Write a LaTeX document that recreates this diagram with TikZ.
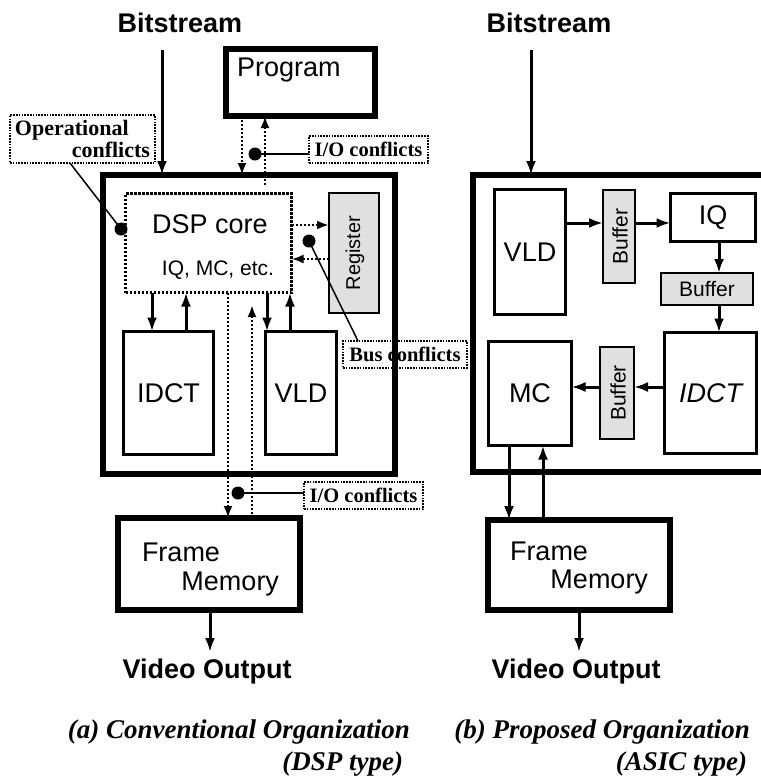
\documentclass[tikz,border=0pt]{standalone}
\usepackage{fontspec}
\setmainfont{Liberation Serif}
\setsansfont{Liberation Sans}
\usetikzlibrary{arrows.meta}
\newcommand\fsz[1]{\fontsize{#1}{#1}\selectfont}
\begin{document}
\begin{tikzpicture}[x=1pt,y=-1pt,
 every node/.style={inner sep=0pt, outer sep=0pt},
 thkbox/.style={draw, line width=6pt},
 blkbox/.style={draw, line width=3pt},
 shdbox/.style={draw, line width=2pt, fill=black!12},
 dotbox/.style={draw, line width=2.6pt, dash pattern=on 2.4pt off 1.6pt},
 ctag/.style={draw, line width=1.6pt, dash pattern=on 1.6pt off 1.2pt, font=\rmfamily\bfseries\fsz{20.5}},
 tagtxt/.style={font=\rmfamily\bfseries\fsz{22}},
 solidarr/.style={line width=3pt, -{Latex[length=14pt,width=10pt]}},
 dotarr/.style={line width=2.6pt, dash pattern=on 2.4pt off 1.6pt, -{Latex[length=12pt,width=9pt]}},
 leadline/.style={line width=1.5pt},
 bulletdot/.style={circle, fill=black, minimum size=13pt},
 sftxt/.style={font=\sffamily\fsz{27}},
 sfbold/.style={font=\sffamily\bfseries\fsz{27}},
 captxt/.style={font=\rmfamily\bfseries\itshape\fsz{27}},
]
\useasboundingbox (0,0) rectangle (761,780);
\clip (0,0) rectangle (761,780);
\fill[white] (0,0) rectangle (761,780);

% ---------------- (a) DSP type ----------------
\node[sfbold, anchor=base] (btL) at (180,32) {Bitstream};
\coordinate (btLs) at (162,50);
\node[thkbox, minimum width=149pt, minimum height=67pt] (prog) at (300.5,82.5) {};
\node[sftxt, anchor=base west] (progT) at (237,76) {Program};
\node[thkbox, minimum width=292pt, minimum height=299pt] (outL) at (249,324.5) {};
\draw[solidarr] (btLs) -- (outL.north -| btLs);

\node[dotbox, minimum width=166pt, minimum height=99pt] (dsp) at (208.5,243) {};
\node[sftxt, anchor=base] (dspT) at (210,233) {DSP core};
\node[font=\sffamily\fsz{21}, anchor=base] (dspS) at (218,275) {IQ, MC, etc.};
\node[shdbox, minimum width=50pt, minimum height=120pt] (reg) at (354,253) {};
\node[font=\sffamily\fsz{20}, rotate=90] (regT) at (355,253) {Register};
\node[blkbox, sftxt, minimum width=90pt, minimum height=123pt] (idctL) at (168.5,393) {IDCT};
\node[blkbox, sftxt, minimum width=71pt, minimum height=123pt] (vldL) at (301,393) {VLD};

\draw[solidarr] (dsp.south -| 152,0) -- (idctL.north -| 152,0);
\draw[solidarr] (idctL.north -| 186,0) -- (dsp.south -| 186,0);
\draw[solidarr] (dsp.south -| 267,0) -- (vldL.north -| 267,0);
\draw[solidarr] (vldL.north -| 290,0) -- (dsp.south -| 290,0);
\draw[dotarr] (dsp.east |- 0,225) -- (reg.west |- 0,225);
\draw[dotarr] (reg.west |- 0,259) -- (dsp.east |- 0,259);

% program I/O
\draw[dotarr] (prog.south -| 242,0) -- (outL.north -| 242,0);
\coordinate (upS) at (265,185);
\draw[dotarr] (upS) -- (prog.south -| upS);
\node[bulletdot] (dU) at (255,154) {};
\node[ctag, minimum width=119pt, minimum height=27pt] (ioU) at (368.5,149.5) {I/O conflicts};
\draw[leadline] (dU.center) -- (dU -| ioU.west);

% operational conflicts
\node[ctag, minimum width=145pt, minimum height=48pt] (opc) at (82.5,139) {};
\node[tagtxt, anchor=base west] (opc1) at (15,135) {Operational};
\node[tagtxt, anchor=base east] (opc2) at (150,157) {conflicts};
\node[bulletdot] (dO) at (121,229) {};
\draw[leadline] (opc.south -| 70,0) -- (dO.center);

% bus conflicts
\node[bulletdot] (dB) at (309,241) {};
\node[ctag, minimum width=124pt, minimum height=27pt] (bus) at (405,354.5) {Bus conflicts};
\draw[leadline] (dB.center) -- (bus.north -| 358,0);

% frame memory (a)
\node[thkbox, minimum width=182pt, minimum height=92pt] (fmL) at (209,564) {};
\node[sftxt, anchor=base west] (fmL1) at (142,561) {Frame};
\node[sftxt, anchor=base east] (fmL2) at (279,590) {Memory};
\draw[dotarr] (dsp.south -| 228,0) -- (fmL.north -| 228,0);
\coordinate (upE) at (252,305);
\draw[dotarr] (fmL.north -| upE) -- (upE);
\node[bulletdot] (dL) at (238,493) {};
\node[ctag, minimum width=119pt, minimum height=27pt] (ioL) at (363.5,495.5) {I/O conflicts};
\draw[leadline] (dL.center) -- (dL -| ioL.west);

\coordinate (voLt) at (210,652);
\draw[solidarr] (fmL.south -| voLt) -- (voLt);
\node[sfbold, anchor=base] (voL) at (207,678) {Video Output};

% ---------------- (b) ASIC type ----------------
\node[sfbold, anchor=base] (btR) at (549,32) {Bitstream};
\coordinate (btRs) at (531,50);
\node[thkbox, minimum width=324pt, minimum height=297pt] (outR) at (635,323.5) {};
\draw[solidarr] (btRs) -- (outR.north -| btRs);

\node[blkbox, sftxt, minimum width=71pt, minimum height=125pt] (vldR) at (530,252) {VLD};
\node[shdbox, minimum width=32pt, minimum height=93pt] (buf1) at (619,236.5) {};
\node[font=\sffamily\fsz{21}, rotate=90] (buf1T) at (620,236.5) {Buffer};
\node[blkbox, sftxt, minimum width=85pt, minimum height=48pt] (iq) at (713,217.5) {IQ};
\node[shdbox, font=\sffamily\fsz{21}, minimum width=92pt, minimum height=32pt] (buf2) at (707,289) {Buffer};
\node[blkbox, font=\sffamily\itshape\fsz{27}, minimum width=92pt, minimum height=121pt] (idctR) at (710.5,393) {IDCT};
\node[shdbox, minimum width=34pt, minimum height=92pt] (buf3) at (617,393) {};
\node[font=\sffamily\fsz{21}, rotate=90] (buf3T) at (618,393) {Buffer};
\node[blkbox, sftxt, minimum width=83pt, minimum height=104pt] (mc) at (530,393.5) {MC};

\draw[solidarr] (vldR.east |- 0,223) -- (buf1.west |- 0,223);
\draw[solidarr] (buf1.east |- 0,223) -- (iq.west |- 0,223);
\draw[solidarr] (iq.south -| 719,0) -- (buf2.north -| 719,0);
\draw[solidarr] (buf2.south -| 719,0) -- (idctR.north -| 719,0);
\draw[solidarr] (idctR.west |- 0,387) -- (buf3.east |- 0,387);
\draw[solidarr] (buf3.west |- 0,387) -- (mc.east |- 0,387);

\node[thkbox, minimum width=182pt, minimum height=90pt] (fmR) at (579,565) {};
\node[sftxt, anchor=base west] (fmR1) at (510,560) {Frame};
\node[sftxt, anchor=base east] (fmR2) at (648,588) {Memory};
\draw[solidarr] (mc.south -| 509,0) -- (fmR.north -| 509,0);
\draw[solidarr] (fmR.north -| 543,0) -- (mc.south -| 543,0);
\coordinate (voRt) at (579,652);
\draw[solidarr] (fmR.south -| voRt) -- (voRt);
\node[sfbold, anchor=base] (voR) at (576,678) {Video Output};

% captions
\node[captxt, anchor=base east] (capA1) at (410,738) {(a) Conventional Organization};
\node[captxt, anchor=base east] (capA2) at (403,770) {(DSP type)};
\node[captxt, anchor=base east] (capB1) at (750,738) {(b) Proposed Organization};
\node[captxt, anchor=base east] (capB2) at (747,770) {(ASIC type)};
\end{tikzpicture}
\end{document}
